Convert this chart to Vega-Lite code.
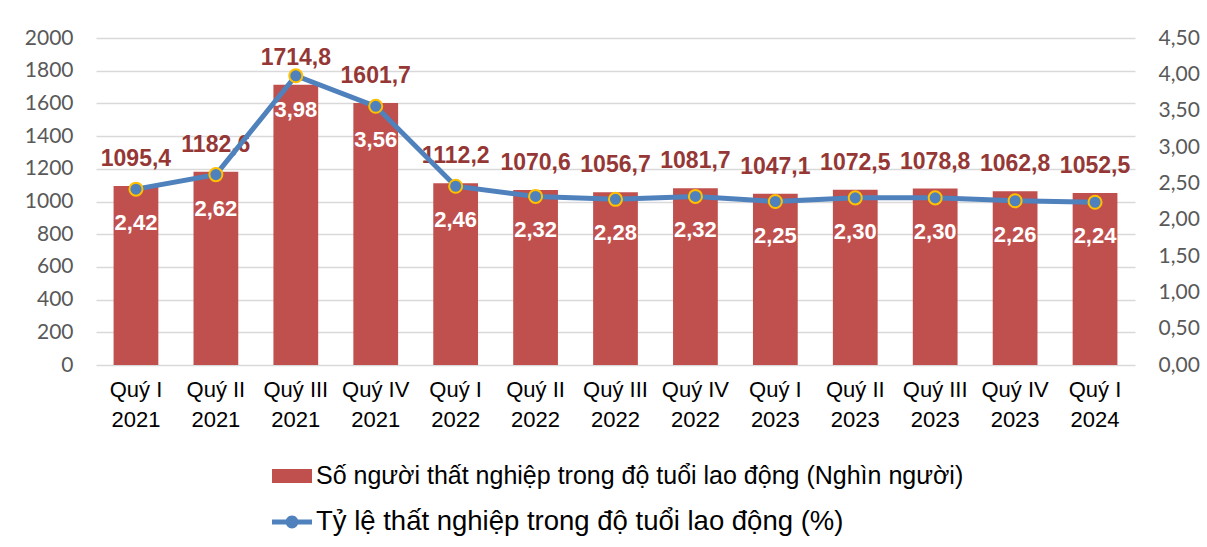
{
  "$schema": "https://vega.github.io/schema/vega-lite/v6.json",
  "width": 1039,
  "height": 327,
  "autosize": {"type": "none"},
  "padding": {"left": 96, "top": 38, "right": 72, "bottom": 182},
  "background": "white",
  "config": {
    "view": {"stroke": null},
    "locale": {"number": {"decimal": ",", "thousands": ".", "grouping": [3], "currency": ["", ""]}},
    "axis": {"ticks": false, "domain": false, "title": null, "labelOverlap": false}
  },
  "data": {"values": [
    {"k": "Quý I 2021", "n": 1095.4, "r": 2.42},
    {"k": "Quý II 2021", "n": 1182.6, "r": 2.62},
    {"k": "Quý III 2021", "n": 1714.8, "r": 3.98},
    {"k": "Quý IV 2021", "n": 1601.7, "r": 3.56},
    {"k": "Quý I 2022", "n": 1112.2, "r": 2.46},
    {"k": "Quý II 2022", "n": 1070.6, "r": 2.32},
    {"k": "Quý III 2022", "n": 1056.7, "r": 2.28},
    {"k": "Quý IV 2022", "n": 1081.7, "r": 2.32},
    {"k": "Quý I 2023", "n": 1047.1, "r": 2.25},
    {"k": "Quý II 2023", "n": 1072.5, "r": 2.30},
    {"k": "Quý III 2023", "n": 1078.8, "r": 2.30},
    {"k": "Quý IV 2023", "n": 1062.8, "r": 2.26},
    {"k": "Quý I 2024", "n": 1052.5, "r": 2.24}
  ]},
  "encoding": {
    "x": {
      "field": "k", "type": "nominal", "sort": null,
      "scale": {"paddingInner": 0.44, "paddingOuter": 0.22},
      "axis": {
        "labelAngle": 0,
        "labelExpr": "[slice(datum.value, 0, -5), slice(datum.value, -4)]",
        "labelFont": "Liberation Sans", "labelFontSize": 22, "labelColor": "#000000",
        "labelLineHeight": 30, "labelPadding": 14, "grid": false
      }
    }
  },
  "layer": [
    {
      "encoding": {
        "y": {"field": "n", "type": "quantitative",
          "scale": {"domain": [0, 2000], "nice": false},
          "axis": {"orient": "left", "values": [0,200,400,600,800,1000,1200,1400,1600,1800,2000],
            "labelOverlap": false,
            "format": "d", "labelFont": "Lato", "labelFontSize": 21, "labelColor": "#595959",
            "labelPadding": 23, "grid": true, "gridColor": "#D9D9D9", "gridWidth": 1.5}}
      },
      "layer": [
        {
          "mark": {"type": "bar", "color": "#C0504D"},
          "encoding": {
            "color": {"datum": "Số người thất nghiệp trong độ tuổi lao động (Nghìn người)", "type": "nominal",
              "scale": {"domain": ["Số người thất nghiệp trong độ tuổi lao động (Nghìn người)", "Tỷ lệ thất nghiệp trong độ tuổi lao động (%)"],
                "range": ["#C0504D", "#4F81BD"]},
              "legend": {
                "orient": "none", "legendX": 176, "legendY": 418, "direction": "vertical", "title": null,
                "padding": 0, "symbolSize": 1600, "rowPadding": 13, "labelOffset": 4,
                "labelFont": "Liberation Sans", "labelFontSize": 25, "labelColor": "#000000", "labelLimit": 900,
                "encode": {
                  "symbols": {"update": {
                    "shape": {"signal": "datum.index === 0 ? 'M-1,-0.35H1V0.35H-1Z' : 'M-1,-0.13H1V0.13H-1Z M0.32,0A0.32,0.32,0,1,1,-0.32,0A0.32,0.32,0,1,1,0.32,0Z'"},
                    "fill": {"signal": "datum.index === 0 ? '#C0504D' : '#4F81BD'"},
                    "fillOpacity": {"value": 1},
                    "opacity": {"value": 1},
                    "strokeWidth": {"value": 0}
                  }},
                  "labels": {"update": {
                    "fontSize": {"signal": "datum.index === 0 ? 25 : 27.5"}
                  }}
                }
              }}
          }
        },
        {
          "mark": {"type": "text", "font": "Liberation Sans", "fontSize": 23, "fontWeight": "bold", "color": "#953735", "baseline": "middle", "dy": -27},
          "encoding": {
            "text": {"field": "n", "type": "quantitative", "format": ".1f"}
          }
        }
      ]
    },
    {
      "encoding": {
        "y": {"field": "r", "type": "quantitative",
          "scale": {"domain": [0, 4.5], "nice": false},
          "axis": {"orient": "right", "values": [0,0.5,1,1.5,2,2.5,3,3.5,4,4.5],
            "labelOverlap": false,
            "format": ".2f", "labelFont": "Lato", "labelFontSize": 21, "labelColor": "#595959",
            "labelPadding": 23, "grid": false}}
      },
      "layer": [
        {
          "mark": {"type": "line", "strokeWidth": 5},
          "encoding": {
            "color": {"datum": "Tỷ lệ thất nghiệp trong độ tuổi lao động (%)", "type": "nominal"}
          }
        },
        {
          "mark": {"type": "point", "filled": true, "shape": "circle", "size": 170, "fill": "#4F81BD", "stroke": "#FFC000", "strokeWidth": 2, "opacity": 1},
          "encoding": {}
        },
        {
          "mark": {"type": "text", "font": "Liberation Sans", "fontSize": 22, "fontWeight": "bold", "color": "#FFFFFF", "baseline": "middle", "dy": 34},
          "encoding": {
            "text": {"field": "r", "type": "quantitative", "format": ".2f"}
          }
        }
      ]
    }
  ],
  "resolve": {"scale": {"y": "independent"}}
}
